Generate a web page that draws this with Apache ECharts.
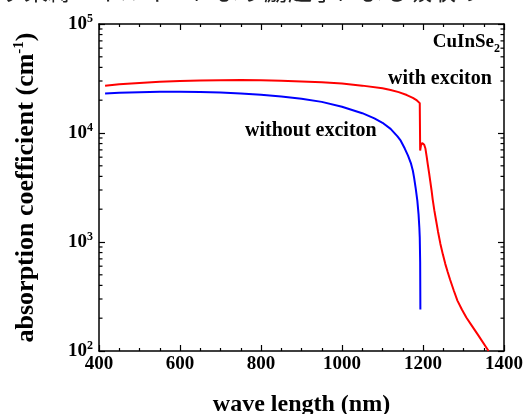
<!DOCTYPE html>
<html>
<head>
<meta charset="utf-8">
<script src="https://cdn.jsdelivr.net/npm/echarts@6/dist/echarts.min.js"></script>
<style>html,body{margin:0;padding:0;background:#fff}#c{width:526px;height:414px}</style>
</head>
<body>
<div id="c"></div>
<script>
// ---- data ----
const withExcitonNm = [415,450,500,550,600,650,700,750,800,850,900,950,1000,1050,1100,1120,1140,1160,1175,1185,1192,1193,1195,1198,1201,1203,1206,1209,1212,1215,1218,1221,1224,1228,1232,1237,1243,1249,1255,1261,1267,1276,1285,1296,1307,1320,1335,1362];
const withExcitonVal = [27200,28000,28800,29500,30000,30300,30500,30600,30500,30200,29700,29200,28500,27200,25700,24800,23700,22300,21000,19900,18800,6900,7700,8100,8000,7800,7200,6100,5100,4300,3600,3000,2450,1950,1600,1250,960,770,630,530,450,359,290,240,203,172,142,100];
const withoutExcitonNm = [415,450,500,550,600,650,700,750,800,850,900,950,1000,1050,1080,1100,1120,1137,1145,1155,1163,1170,1175,1178,1182,1186,1189,1191,1192,1193,1193.5];
const withoutExcitonVal = [23000,23400,23700,23900,23900,23800,23500,23000,22400,21600,20600,19300,17400,15200,13600,12400,10900,9300,8500,7200,6200,5300,4500,3900,3100,2400,1800,1350,1100,650,240];
const xTicks = [400,600,800,1000,1200,1400];
const yDecades = [2,3,4,5];
const yMinorTicks = [200,300,400,500,600,700,800,900,2000,3000,4000,5000,6000,7000,8000,9000,20000,30000,40000,50000,60000,70000,80000,90000];
const labels = {material:'CuInSe', materialSub:'2', withEx:'with exciton', withoutEx:'without exciton',
  xName:'wave length (nm)', yName:'absorption coefficient (cm', yNameSup:'-1', yNameEnd:')',
  topText:'す束縛エネルギーにより励起子による吸収の'};

const FONT = '"Liberation Serif","Times New Roman",serif';
const chart = echarts.init(document.getElementById('c'), null, {renderer:'canvas'});
const axisLine = {show:true, onZero:false, lineStyle:{color:'#000', width:1.5}};
const toPairs = (xs, ys) => xs.map((x,i)=>[x, ys[i]]);

chart.setOption({
  animation:false,
  backgroundColor:'#fff',
  grid:{left:99, right:22, top:24, bottom:63, containLabel:false, outerBoundsMode:'none'},
  xAxis:[{
    type:'value', min:xTicks[0], max:xTicks[xTicks.length-1], interval:200,
    axisLine, splitLine:{show:false},
    axisTick:{show:true, inside:true, length:6, lineStyle:{color:'#000', width:1.2}},
    minorTick:{show:true, splitNumber:4, length:3, lineStyle:{color:'#000', width:1.2}},
    axisLabel:{color:'#000', fontFamily:FONT, fontWeight:'bold', fontSize:19, margin:4, formatter:v=>String(v)},
    name:labels.xName, nameLocation:'middle', nameGap:42,
    nameTextStyle:{color:'#000', fontFamily:FONT, fontWeight:'bold', fontSize:24}
  },{
    type:'value', position:'top', min:xTicks[0], max:xTicks[xTicks.length-1], interval:200,
    axisLine, splitLine:{show:false},
    axisTick:{show:true, inside:true, length:6, lineStyle:{color:'#000', width:1.2}},
    minorTick:{show:true, splitNumber:4, length:3, lineStyle:{color:'#000', width:1.2}},
    axisLabel:{show:false}
  }],
  yAxis:[{
    type:'log', logBase:10, min:Math.pow(10,yDecades[0]), max:Math.pow(10,yDecades[yDecades.length-1]),
    axisLine, splitLine:{show:false},
    axisTick:{show:true, inside:true, length:6, lineStyle:{color:'#000', width:1.2}},
    axisLabel:{margin:6, fontFamily:FONT,
      formatter:v=>'{b|10}{s|'+Math.round(Math.log10(v))+'}',
      rich:{b:{color:'#000', fontFamily:FONT, fontWeight:'bold', fontSize:19},
            s:{color:'#000', fontFamily:FONT, fontWeight:'bold', fontSize:12, verticalAlign:'top', padding:[0,0,10,0]}}},
    name:'{a|'+labels.yName+'}{s|'+labels.yNameSup+'}{a|'+labels.yNameEnd+'}',
    nameLocation:'middle', nameGap:58, nameRotate:90,
    nameTextStyle:{rich:{a:{color:'#000', fontFamily:FONT, fontWeight:'bold', fontSize:26},
                         s:{color:'#000', fontFamily:FONT, fontWeight:'bold', fontSize:15, padding:[0,0,14,0]}}}
  },{
    type:'log', logBase:10, position:'right', min:Math.pow(10,yDecades[0]), max:Math.pow(10,yDecades[yDecades.length-1]),
    axisLine, splitLine:{show:false},
    axisTick:{show:true, inside:true, length:6, lineStyle:{color:'#000', width:1.2}},
    axisLabel:{show:false}
  }],
  series:[{
    type:'line', name:'with exciton', data:toPairs(withExcitonNm, withExcitonVal),
    showSymbol:false, symbol:'none', lineStyle:{color:'#ff0000', width:2}, itemStyle:{color:'#ff0000'}, z:3
  },{
    type:'line', name:'without exciton', data:toPairs(withoutExcitonNm, withoutExcitonVal),
    showSymbol:false, symbol:'none', lineStyle:{color:'#0000ff', width:2}, itemStyle:{color:'#0000ff'}, z:3
  },{
    type:'custom', silent:true, clip:false, z:5,
    data:yMinorTicks.map(v=>[xTicks[0], v]),
    renderItem:(params, api)=>{
      const cs = params.coordSys;
      const y = api.coord([api.value(0), api.value(1)])[1];
      const st = {stroke:'#000', lineWidth:1.2};
      return {type:'group', children:[
        {type:'line', shape:{x1:cs.x, y1:y, x2:cs.x+3.5, y2:y}, style:st},
        {type:'line', shape:{x1:cs.x+cs.width-3.5, y1:y, x2:cs.x+cs.width, y2:y}, style:st}
      ]};
    }
  }],
  graphic:[
    {type:'text', left:0, top:-21, style:{text:labels.topText, fill:'#222', font:'24px "Noto Sans CJK JP"'}},
    {type:'text', right:26, top:33, style:{rich:{m:{fontFamily:FONT, fontWeight:'bold', fontSize:19, fill:'#000'},
        d:{fontFamily:FONT, fontWeight:'bold', fontSize:12, fill:'#000', padding:[12,0,0,0]}},
        text:'{m|'+labels.material+'}{d|'+labels.materialSub+'}'}},
    {type:'text', left:388, top:69, style:{text:labels.withEx, fill:'#000', font:'bold 20px '+FONT}},
    {type:'text', left:245, top:121, style:{text:labels.withoutEx, fill:'#000', font:'bold 20px '+FONT}}
  ]
});
</script>
</body>
</html>
